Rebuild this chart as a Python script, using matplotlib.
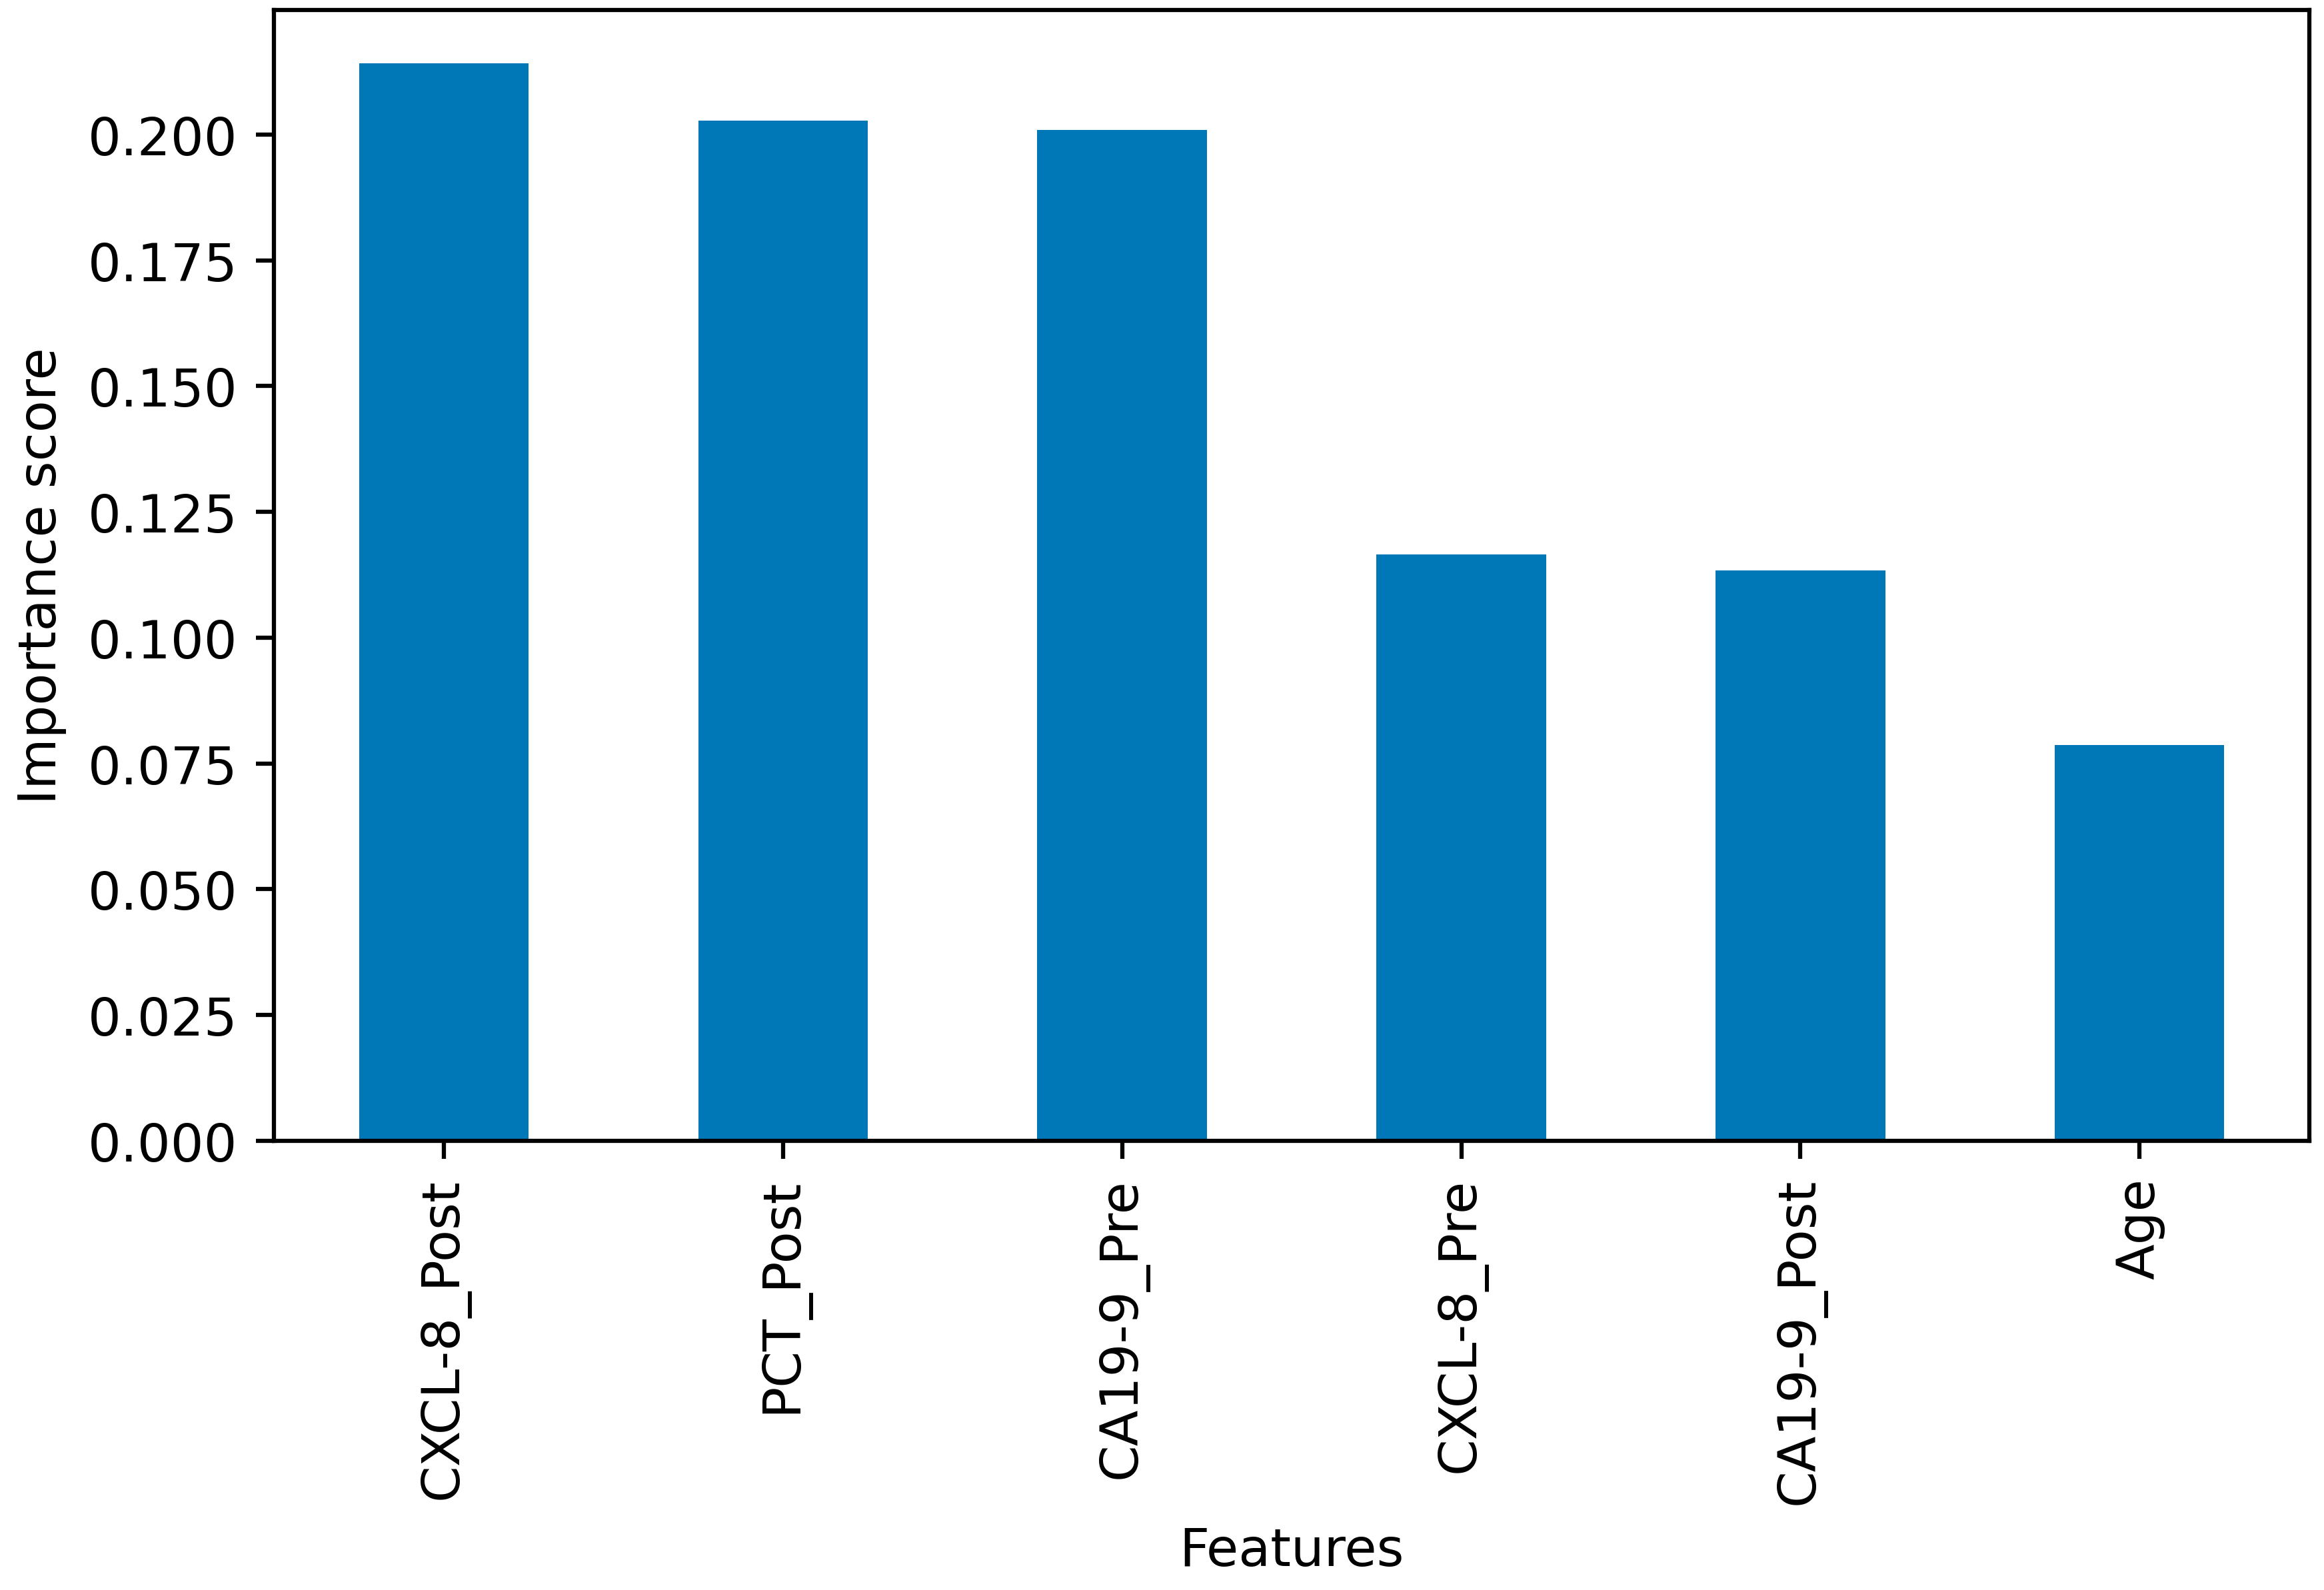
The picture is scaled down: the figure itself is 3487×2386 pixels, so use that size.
import matplotlib
matplotlib.use("Agg")
import matplotlib.pyplot as plt

# feature importances
features = ["CXCL-8_Post", "PCT_Post", "CA19-9_Pre", "CXCL-8_Pre", "CA19-9_Post", "Age"]
scores = [0.2141, 0.2027, 0.2009, 0.1166, 0.1134, 0.0786]

DPI = 565
fig = plt.figure(figsize=(3487 / DPI, 2387 / DPI), dpi=DPI)
ax = fig.add_axes([0.118, 0.2824, 0.8756, 0.7111])

x = range(len(features))
ax.bar(x, scores, width=0.5, color="#0077b6")
ax.set_xticks(list(x))
ax.set_xticklabels(features, rotation=90)
ax.set_xlim(-0.5, len(features) - 0.5)
ax.set_ylim(0, max(scores) * 1.05)
ax.set_yticks([0.0, 0.025, 0.05, 0.075, 0.1, 0.125, 0.15, 0.175, 0.2])
ax.set_yticklabels(["%.3f" % v for v in ax.get_yticks()])
ax.set_xlabel("Features")
ax.set_ylabel("Importance score")

fig.savefig("out.png", dpi=DPI)
